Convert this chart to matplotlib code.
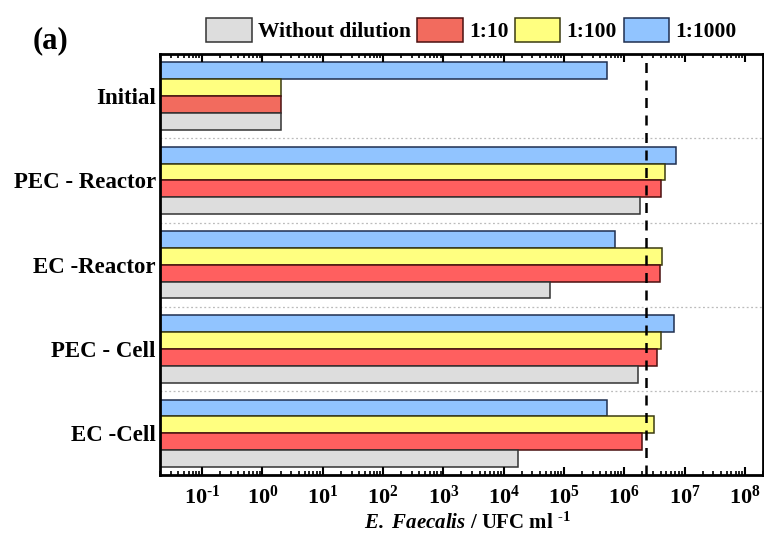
import numpy as np
import matplotlib
matplotlib.use('Agg')
import matplotlib.pyplot as plt
from matplotlib.ticker import LogLocator, FuncFormatter, NullFormatter

plt.rcParams['font.family'] = ['Liberation Serif', 'DejaVu Serif']
plt.rcParams['font.weight'] = 'bold'
plt.rcParams['axes.unicode_minus'] = False
plt.rcParams['mathtext.fontset'] = 'custom'
plt.rcParams['mathtext.rm'] = 'Liberation Serif:bold'
plt.rcParams['mathtext.bf'] = 'Liberation Serif:bold'
plt.rcParams['mathtext.it'] = 'Liberation Serif:italic:bold'
plt.rcParams['mathtext.bfit'] = 'Liberation Serif:italic:bold'

# Datos (UFC/ml)
categories = ['Initial', 'PEC - Reactor', 'EC -Reactor', 'PEC - Cell', 'EC -Cell']
without_dilution = [2, 1.8e6, 5.8e4, 1.7e6, 1.7e4]
dil_10 = [2, 4.1e6, 3.9e6, 3.5e6, 2.0e6]
dil_100 = [2, 4.7e6, 4.3e6, 4.0e6, 3.1e6]
dil_1000 = [5.1e5, 7.1e6, 6.9e5, 6.6e6, 5.2e5]
limit_value = 2.3e6

series = [
    ('1:1000', dil_1000, '#91C4FF', '#1F2F4F'),
    ('1:100', dil_100, '#FFFF80', '#3A3A10'),
    ('1:10', dil_10, '#FF5F5F', '#4A1010'),
    ('Without dilution', without_dilution, '#DDDDDD', '#333333'),
]

fig = plt.figure(figsize=(7.64, 5.41), dpi=100)
ax = fig.add_axes([0.2094, 0.1211, 0.7893, 0.7791])

xmin = 0.02
h = 0.2
y = np.arange(len(categories))
handles = {}
for i, (name, vals, col, ec) in enumerate(series):
    pos = y - 0.3 + i * h
    widths = [v - xmin for v in vals]
    cols = [col] * len(vals)
    if name == '1:10':
        cols[0] = '#F26B5E'
    b = ax.barh(pos, widths, left=xmin, height=h, color=cols,
                edgecolor=ec, linewidth=1.1)
    handles[name] = b

ax.set_xscale('log')
ax.set_xlim(xmin, 2e8)
ax.set_ylim(len(categories) - 0.5, -0.5)

for k in range(len(categories) - 1):
    ax.axhline(k + 0.5, color='#BBBBBB', linestyle=(0, (1.5, 2)), linewidth=0.9)

ax.axvline(limit_value, color='black', linestyle=(0, (4, 3)), linewidth=1.8)

ax.set_yticks(y)
ax.set_yticklabels(categories, fontsize=16.5, fontweight='bold')
ax.tick_params(axis='y', length=0, pad=3)


def fmt_pow(v, p):
    e = int(round(np.log10(v)))
    if e < 0:
        return r'$\mathbf{10^{\text{-}%d}}$' % (-e)
    return r'$\mathbf{10^{%d}}$' % e


ax.xaxis.set_major_locator(LogLocator(base=10, numticks=20))
ax.xaxis.set_minor_locator(LogLocator(base=10, subs=np.arange(2, 10), numticks=20))
ax.xaxis.set_minor_formatter(NullFormatter())
ax.xaxis.set_major_formatter(FuncFormatter(fmt_pow))
ax.tick_params(axis='x', which='major', direction='in', length=6, width=1.5,
               top=True, labelsize=16, pad=7)
ax.tick_params(axis='x', which='minor', direction='in', length=3, width=1.2, top=True)

for s in ax.spines.values():
    s.set_linewidth(2)

ax.set_xlabel(r'$\mathbfit{E.}$ $\mathbfit{Faecalis}$ / UFC ml $^{\text{-1}}$', fontsize=15,
              fontweight='bold')
ax.xaxis.set_label_coords(0.51, -0.088)

order = ['Without dilution', '1:10', '1:100', '1:1000']
leg = fig.legend([handles[n] for n in order], order, loc='center',
                 bbox_to_anchor=(0.617, 0.944), ncol=4, frameon=False,
                 prop={'size': 15.5, 'weight': 'bold'}, handlelength=2.1,
                 handleheight=1.3, handletextpad=0.3, columnspacing=0.3)

fig.text(0.043, 0.91, '(a)', fontsize=22, fontweight='bold')

fig.savefig('out.png', dpi=100)
